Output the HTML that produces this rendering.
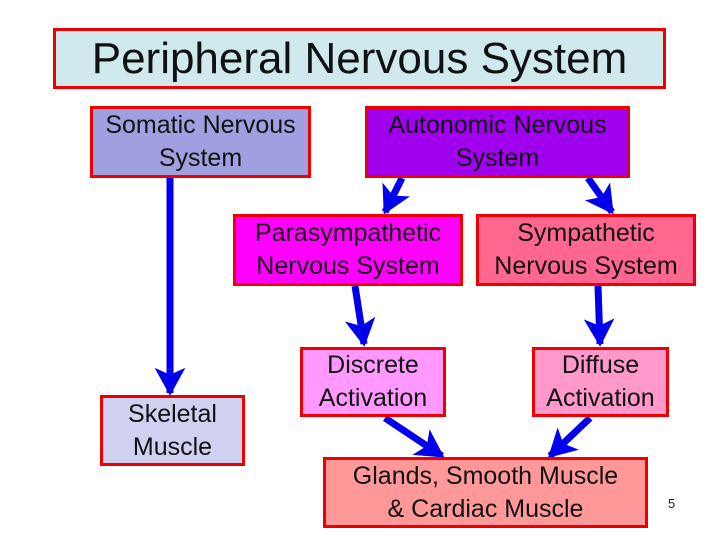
<!DOCTYPE html>
<html><head><style>
body{margin:0;width:720px;height:540px;background:#fff;overflow:hidden;position:relative;font-family:"Liberation Sans",sans-serif}
.b{position:absolute;box-sizing:border-box;border:3px solid #ee0000;display:flex;align-items:center;justify-content:center;text-align:center;font-size:25px;line-height:33px;color:#111}
svg{position:absolute;left:0;top:0}
</style></head><body>
<svg width="720" height="540">
<defs><marker id="a" markerWidth="4" markerHeight="4.4" refX="3.6" refY="2.2" orient="auto" markerUnits="strokeWidth"><path d="M0,0 L4,2.2 L0,4.4 L1,2.2 Z" fill="#0000ee"/></marker></defs>
<g stroke="#0000ee" stroke-width="7" marker-end="url(#a)" fill="none">
<line x1="170" y1="178" x2="170" y2="393"/>
<line x1="402" y1="178" x2="385" y2="212"/>
<line x1="588" y1="178" x2="612" y2="212"/>
<line x1="355" y1="286" x2="364" y2="344"/>
<line x1="598" y1="286" x2="600" y2="344"/>
<line x1="385" y1="418" x2="442" y2="456"/>
<line x1="590" y1="418" x2="550" y2="456"/>
</g>
</svg>
<div class="b" style="left:53px;top:28px;width:613px;height:61px;background:#cfe9ec;font-size:44px;line-height:50px">Peripheral Nervous System</div>
<div class="b" style="left:90px;top:106px;width:221px;height:72px;background:#a0a0e0">Somatic Nervous<br>System</div>
<div class="b" style="left:365px;top:106px;width:265px;height:72px;background:#a000ee">Autonomic Nervous<br>System</div>
<div class="b" style="left:233px;top:214px;width:230px;height:72px;background:#ff00ff">Parasympathetic<br>Nervous System</div>
<div class="b" style="left:476px;top:214px;width:220px;height:72px;background:#ff6690">Sympathetic<br>Nervous System</div>
<div class="b" style="left:100px;top:395px;width:145px;height:71px;background:#d0d0f0">Skeletal<br>Muscle</div>
<div class="b" style="left:300px;top:347px;width:146px;height:70px;background:#ff99ff">Discrete<br>Activation</div>
<div class="b" style="left:532px;top:347px;width:137px;height:70px;background:#ff99cc">Diffuse<br>Activation</div>
<div class="b" style="left:323px;top:457px;width:325px;height:71px;background:#ff9999">Glands, Smooth Muscle<br>&amp; Cardiac Muscle</div>
<div style="position:absolute;left:668px;top:496px;font-size:13px;color:#222">5</div>
</body></html>
